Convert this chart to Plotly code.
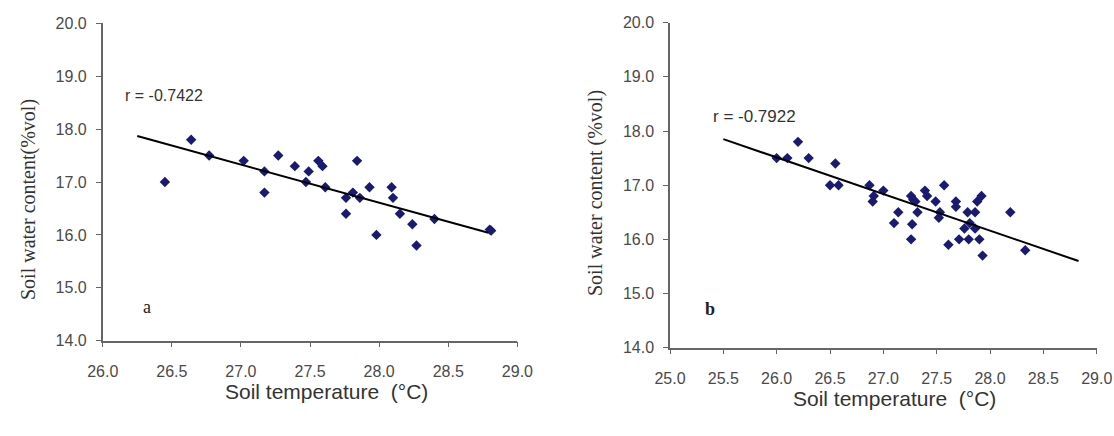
import plotly.graph_objects as go

# ---- Panel a data ----
a_temp = [26.45, 26.64, 26.77, 27.02, 27.17, 27.17, 27.27, 27.39, 27.47, 27.49,
          27.56, 27.59, 27.84, 27.61, 27.76, 27.81, 27.86, 27.76, 27.93, 27.98,
          28.09, 28.10, 28.15, 28.24, 28.27, 28.40, 28.80, 28.81]
a_water = [17.0, 17.8, 17.5, 17.4, 17.2, 16.8, 17.5, 17.3, 17.0, 17.2,
           17.4, 17.3, 17.4, 16.9, 16.7, 16.8, 16.7, 16.4, 16.9, 16.0,
           16.9, 16.7, 16.4, 16.2, 15.8, 16.3, 16.1, 16.08]
a_fit_x = [26.25, 28.79]
a_fit_y = [17.87, 16.04]
a_r = "r = -0.7422"

# ---- Panel b data ----
b_temp = [26.00, 26.10, 26.20, 26.30, 26.55, 26.50, 26.58, 26.87, 26.90, 26.91,
          27.00, 27.10, 27.14, 27.26, 27.28, 27.30, 27.27, 27.26, 27.32, 27.39,
          27.41, 27.49, 27.57, 27.52, 27.53, 27.61, 27.68, 27.68, 27.71, 27.76,
          27.79, 27.80, 27.81, 27.86, 27.86, 27.88, 27.92, 27.90, 27.93, 28.19,
          28.33]
b_water = [17.5, 17.5, 17.8, 17.5, 17.4, 17.0, 17.0, 17.0, 16.7, 16.8,
           16.9, 16.3, 16.5, 16.8, 16.73, 16.7, 16.28, 16.0, 16.5, 16.9,
           16.8, 16.7, 17.0, 16.4, 16.5, 15.9, 16.7, 16.6, 16.0, 16.2,
           16.5, 16.0, 16.3, 16.5, 16.2, 16.7, 16.8, 16.0, 15.7, 16.5,
           15.8]
b_fit_x = [25.5, 28.83]
b_fit_y = [17.85, 15.60]
b_r = "r = -0.7922"

y_ticks = [14.0, 15.0, 16.0, 17.0, 18.0, 19.0, 20.0]
a_x_ticks = [26.0, 26.5, 27.0, 27.5, 28.0, 28.5, 29.0]
b_x_ticks = [25.0, 25.5, 26.0, 26.5, 27.0, 27.5, 28.0, 28.5, 29.0]

y_title_a = "Soil water content(%vol)"
y_title_b = "Soil water content (%vol)"
x_title = "Soil temperature \u00a0(°C)"

W, H = 1114, 436
navy = "#1a1a72"
axis_col = "#666666"
tick_col = "#4a4a4a"
sans = "Liberation Sans, Arial, sans-serif"
serif = "Liberation Serif, Times New Roman, serif"

fig = go.Figure()

fig.add_trace(go.Scatter(x=a_temp, y=a_water, mode="markers", xaxis="x", yaxis="y",
                         marker=dict(symbol="diamond", size=8, color=navy), showlegend=False))
fig.add_trace(go.Scatter(x=a_fit_x, y=a_fit_y, mode="lines", xaxis="x", yaxis="y",
                         line=dict(color="black", width=2), showlegend=False))
fig.add_trace(go.Scatter(x=b_temp, y=b_water, mode="markers", xaxis="x2", yaxis="y2",
                         marker=dict(symbol="diamond", size=8, color=navy), showlegend=False))
fig.add_trace(go.Scatter(x=b_fit_x, y=b_fit_y, mode="lines", xaxis="x2", yaxis="y2",
                         line=dict(color="black", width=2), showlegend=False))

def px_x(p):
    return p / W

def px_y(p):
    return 1 - p / H

common = dict(showline=True, linecolor=axis_col, linewidth=1.5, ticks="outside",
              ticklen=5, tickcolor=axis_col, tickwidth=1.2, showgrid=False,
              zeroline=False, tickformat=".1f", automargin=False)
tf = dict(family=sans, size=16, color=tick_col)

fig.update_layout(
    width=W, height=H, autosize=False,
    margin=dict(l=0, r=0, t=0, b=0, pad=0),
    paper_bgcolor="white", plot_bgcolor="white",
    xaxis=dict(domain=[px_x(102.7), px_x(517.4)], range=[26.0, 29.0], tickvals=a_x_ticks,
               anchor="y", tickfont=tf, ticklabelstandoff=10, **common),
    yaxis=dict(domain=[px_y(340.7), px_y(23.3)], range=[14.0, 20.0], tickvals=y_ticks,
               anchor="x", tickfont=tf, ticklabelstandoff=6, **common),
    xaxis2=dict(domain=[px_x(670), px_x(1096.7)], range=[25.0, 29.0], tickvals=b_x_ticks,
                anchor="y2", tickfont=tf, ticklabelstandoff=10, **common),
    yaxis2=dict(domain=[px_y(347.7), px_y(22.7)], range=[14.0, 20.0], tickvals=y_ticks,
                anchor="x2", tickfont=tf, ticklabelstandoff=6, **common),
)

ann = [
    dict(text=a_r, x=26.15, y=18.64, xref="x", yref="y", xanchor="left", yanchor="middle",
         showarrow=False, font=dict(family=sans, size=16, color="#333")),
    dict(text=b_r, x=25.38, y=18.27, xref="x2", yref="y2", xanchor="left", yanchor="middle",
         showarrow=False, font=dict(family=sans, size=17, color="#333")),
    dict(text="a", x=26.32, y=14.64, xref="x", yref="y", xanchor="center", yanchor="middle",
         showarrow=False, font=dict(family=serif, size=18, color="#222")),
    dict(text="<b>b</b>", x=25.375, y=14.72, xref="x2", yref="y2", xanchor="center", yanchor="middle",
         showarrow=False, font=dict(family=serif, size=18, color="#222")),
    dict(text=y_title_a, x=px_x(28), y=px_y(200), xref="paper", yref="paper", textangle=-90,
         xanchor="center", yanchor="middle", showarrow=False,
         font=dict(family=serif, size=20, color="#333")),
    dict(text=y_title_b, x=px_x(596), y=px_y(193), xref="paper", yref="paper", textangle=-90,
         xanchor="center", yanchor="middle", showarrow=False,
         font=dict(family=serif, size=20, color="#333")),
    dict(text=x_title, x=px_x(326), y=px_y(391), xref="paper", yref="paper",
         xanchor="center", yanchor="middle", showarrow=False,
         font=dict(family=sans, size=21, color="#333")),
    dict(text=x_title, x=px_x(894), y=px_y(398), xref="paper", yref="paper",
         xanchor="center", yanchor="middle", showarrow=False,
         font=dict(family=sans, size=21, color="#333")),
]
fig.update_layout(annotations=ann)

fig.write_html(
    "out.html",
    config={"displayModeBar": False},
    post_script="document.body.style.margin='0px';document.body.style.overflow='hidden';",
)
